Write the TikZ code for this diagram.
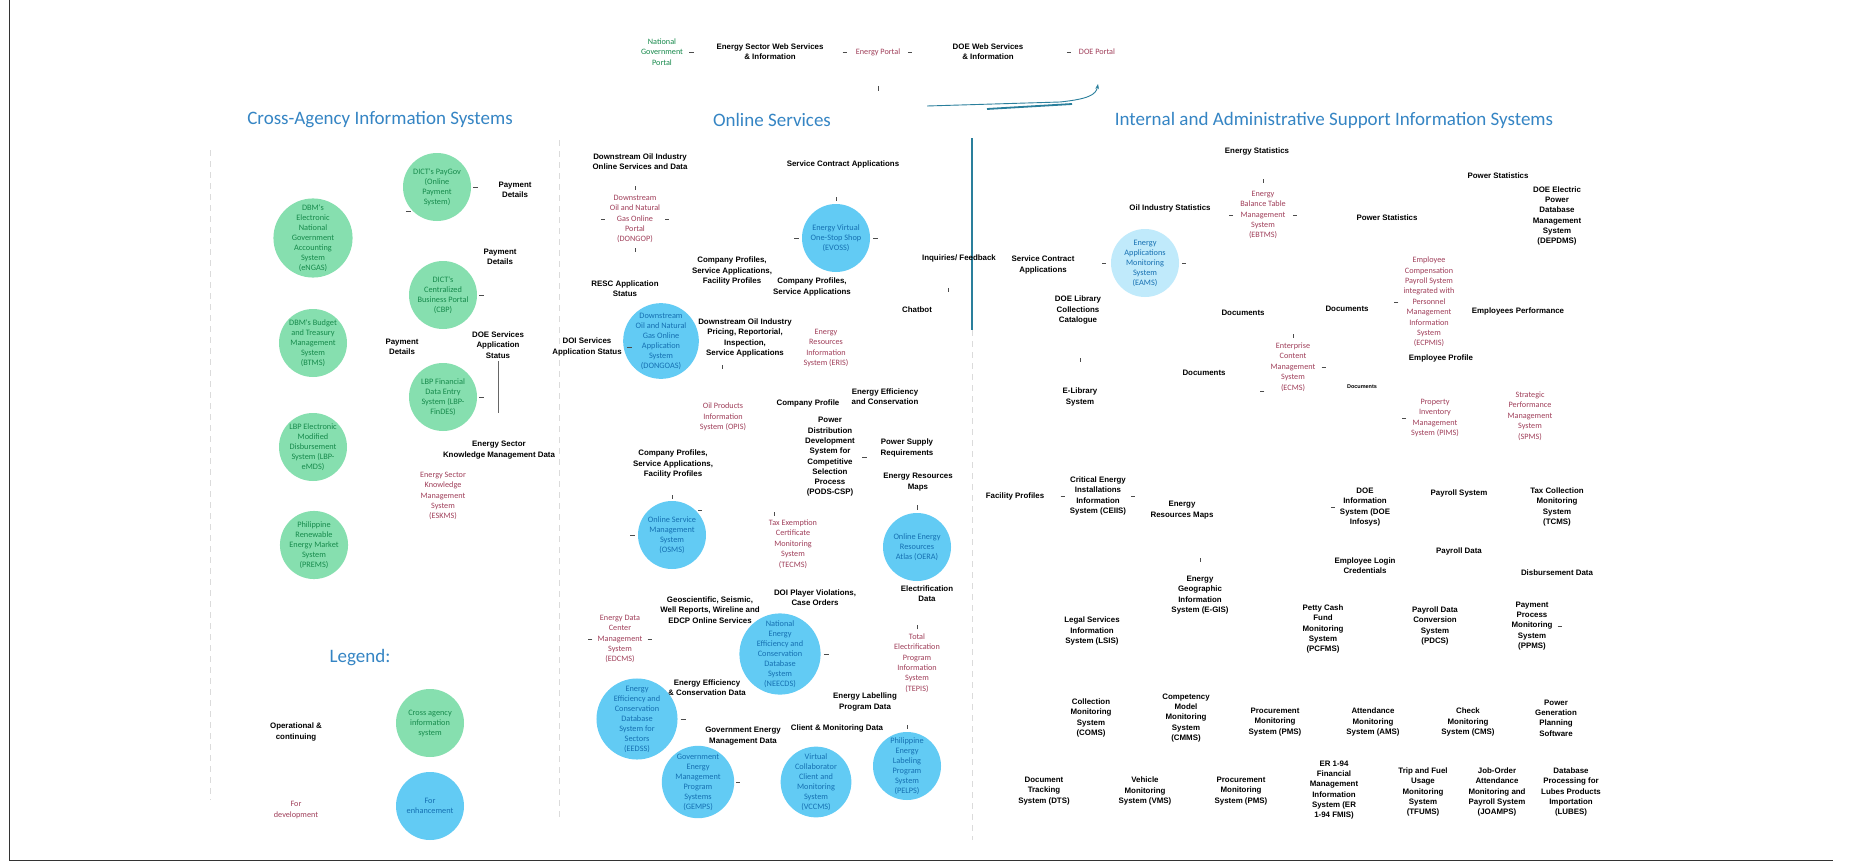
\documentclass[tikz,border=0pt]{standalone}
\usepackage{fontspec}
\usetikzlibrary{arrows.meta}
\setmainfont{Liberation Sans}
\newfontfamily\carl{Carlito}
\newfontfamily\lsans{Liberation Sans}
\definecolor{ttlblue}{HTML}{3585C4}
\definecolor{cagreen}{HTML}{86DFAF}
\definecolor{cagreentx}{HTML}{178A4C}
\definecolor{encblue}{HTML}{62CBF4}
\definecolor{encbluetx}{HTML}{1670B2}
\definecolor{devred}{HTML}{A03F5A}
\definecolor{divteal}{HTML}{2A7F9C}
\newcommand\mylblfont{\lsans\bfseries\fontsize{7.9}{10.3}\selectfont}
\newcommand\mycircfont{\carl\fontsize{8.3}{10}\selectfont}
\newcommand\mydevfont{\carl\fontsize{8.2}{10.4}\selectfont}
\newcommand\mytitlefont{\carl\fontsize{19}{22}\selectfont}
\tikzset{
  lbl/.style={font=\mylblfont, align=center, text=black, inner sep=0pt},
  dev/.style={font=\mydevfont, align=center, text=devred, inner sep=0pt},
  gtx/.style={font=\mydevfont, align=center, text=cagreentx, inner sep=0pt},
  gc/.style={circle, fill=cagreen, text=cagreentx, minimum size=68pt, inner sep=0pt, align=center, font=\mycircfont},
  bc/.style={circle, fill=encblue, text=encbluetx, minimum size=68pt, inner sep=0pt, align=center, font=\mycircfont},
  ttl/.style={font=\mytitlefont, text=ttlblue, inner sep=0pt},
  tickst/.style={draw=black!70, line width=0.7pt},
  faint/.style={draw=black!14, line width=0.6pt, dash pattern=on 6pt off 5pt},
}
\begin{document}
\begin{tikzpicture}[x=1pt,y=-1pt]
\useasboundingbox (0,0) rectangle (1859,867);
\fill[white] (0,0) rectangle (1859,867);
% frame
\draw[black!80, line width=1pt] (9,0) -- (9,860) -- (1833,860);
% faint guides
\draw[faint] (210,150) -- (210,800);
\draw[faint] (559,140) -- (559,820);
\draw[divteal, line width=1.2pt] (972,138) -- (972,330);
\draw[faint] (972,330) -- (972,840);

% ---------- top banner ----------
\node[gtx] (ngp) at (662,52) {National\\Government\\Portal};
\node[lbl] (eswsi) at (770,52) {Energy Sector Web Services\\\& Information};
\node[dev] (ep) at (878,52) {Energy Portal};
\node[lbl] (dwsi) at (988,52) {DOE Web Services\\\& Information};
\node[dev] (dp) at (1097,52) {DOE Portal};
\draw[tickst] ([xshift=6pt]ngp.east) -- ([xshift=11pt]ngp.east);
\draw[tickst] ([xshift=-13pt]ep.west) -- ([xshift=-9pt]ep.west);
\draw[tickst] ([xshift=8pt]ep.east) -- ([xshift=12pt]ep.east);
\draw[tickst] ([xshift=-12pt]dp.west) -- ([xshift=-8pt]dp.west);
\draw[tickst] ([yshift=-30pt]ep.south) -- ([yshift=-35pt]ep.south);
\coordinate (cva) at (927,106);
\coordinate (cvb) at (1098,84);
\draw[divteal, line width=0.9pt, -{Stealth[length=5pt]}] (cva) -- (1060,102) .. controls (1088,99) and (1096,95) .. (cvb);
\draw[divteal, line width=1.8pt] (987,109) -- (1072,104);

% ---------- titles ----------
\node[ttl] (t1) at (380,120) {Cross-Agency Information Systems};
\node[ttl] (t2) at (772,120) {Online Services};
\node[ttl] (t3) at (1334,120) {Internal and Administrative Support Information Systems};

% ---------- cross-agency ----------
\node[gc] (engas) at (313,238) {DBM's\\Electronic\\National\\Government\\Accounting\\System\\(eNGAS)};
\node[gc] (paygov) at (437,187) {DICT's PayGov\\(Online\\Payment\\System)};
\node[gc] (cbp) at (443,295) {DICT's\\Centralized\\Business Portal\\(CBP)};
\node[gc] (btms) at (313,343) {DBM's Budget\\and Treasury\\Management\\System\\(BTMS)};
\node[gc] (findes) at (443,397) {LBP Financial\\Data Entry\\System (LBP-\\FinDES)};
\node[gc] (emds) at (313,447) {LBP Electronic\\Modified\\Disbursement\\System (LBP-\\eMDS)};
\node[gc] (prems) at (314,545) {Philippine\\Renewable\\Energy Market\\System\\(PREMS)};
\node[lbl] (pd1) at (515,190) {Payment\\Details};
\node[lbl] (pd2) at (500,257) {Payment\\Details};
\node[lbl] (pd3) at (402,347) {Payment\\Details};
\node[lbl] (dosas) at (498,345) {DOE Services\\Application\\Status};
\coordinate (dosasend) at (498,413);
\draw[black!60, line width=0.6pt] ([yshift=-3pt]dosas.south) -- (dosasend);
\node[lbl] (eskmd) at (499,450) {Energy Sector\\Knowledge Management Data};
\node[dev] (eskms) at (443,496) {Energy Sector\\Knowledge\\Management\\System\\(ESKMS)};
\draw[tickst] ([xshift=2pt]paygov.east) -- ([xshift=7pt]paygov.east);
\draw[tickst] ([xshift=-7pt]paygov.south west) -- ([xshift=-2pt]paygov.south west);
\draw[tickst] ([xshift=2pt]cbp.east) -- ([xshift=7pt]cbp.east);
\draw[tickst] ([xshift=2pt]findes.east) -- ([xshift=7pt]findes.east);

% ---------- legend ----------
\node[ttl] (legend) at (360,658) {Legend:};
\node[lbl] (opc) at (296,732) {Operational \&\\continuing};
\node[gc] (lgc) at (430,723) {Cross agency\\information\\system};
\node[dev] (fdev) at (296,810) {For\\development};
\node[bc] (lbc) at (430,806) {For\\enhancement};

% ---------- online services ----------
\node[lbl] (dsoi) at (640,162) {Downstream Oil Industry\\Online Services and Data};
\node[dev] (dongop) at (635,219) {Downstream\\Oil and Natural\\Gas Online\\Portal\\(DONGOP)};
\draw[tickst] ([yshift=5pt]dongop.north) -- ([yshift=9pt]dongop.north);
\draw[tickst] ([yshift=-5pt]dongop.south) -- ([yshift=-9pt]dongop.south);
\draw[tickst] ([xshift=-5pt]dongop.west) -- ([xshift=-9pt]dongop.west);
\draw[tickst] ([xshift=5pt]dongop.east) -- ([xshift=9pt]dongop.east);
\node[lbl] (resc) at (625,289) {RESC Application\\Status};
\node[lbl] (cpsa1) at (732,271) {Company Profiles,\\Service Applications,\\Facility Profiles};
\node[lbl] (sca) at (843,164) {Service Contract Applications};
\node[bc] (evoss) at (836,238) {Energy Virtual\\One-Stop Shop\\(EVOSS)};
\draw[tickst] ([xshift=3pt]evoss.east) -- ([xshift=8pt]evoss.east);
\draw[tickst] ([yshift=3pt]evoss.north) -- ([yshift=7pt]evoss.north);
\draw[tickst] ([xshift=-3pt]evoss.west) -- ([xshift=-8pt]evoss.west);
\node[lbl] (cpsa2) at (812,287) {Company Profiles,\\Service Applications};
\node[lbl] (chatbot) at (917,310) {Chatbot};
\node[lbl] (inq) at (959,258) {Inquiries/ Feedback};
\draw[tickst] ([yshift=-26pt]inq.south) ++(-11pt,0) -- ++(0,-4pt);
\node[bc] (dongoas) at (661,341) {Downstream\\Oil and Natural\\Gas Online\\Application\\System\\(DONGOAS)};
\node[lbl] (doisas) at (587,347) {DOI Services\\Application Status};
\draw[tickst] ([xshift=5pt]doisas.east) -- ([xshift=10pt]doisas.east);
\node[lbl] (dsop) at (745,338) {Downstream Oil Industry\\Pricing, Reportorial,\\Inspection,\\Service Applications};
\draw[tickst] ([yshift=-8pt]dsop.south) ++(-23pt,0) -- ++(0,-4pt);
\node[dev] (opis) at (723,417) {Oil Products\\Information\\System (OPIS)};
\node[lbl] (cpsa3) at (673,464) {Company Profiles,\\Service Applications,\\Facility Profiles};
\node[dev] (eris) at (826,348) {Energy\\Resources\\Information\\System (ERIS)};
\node[lbl] (cprof) at (808,403) {Company Profile};
\node[lbl] (eec) at (885,397) {Energy Efficiency\\and Conservation};
\node[lbl] (pods) at (830,457) {Power\\Distribution\\Development\\System for\\Competitive\\Selection\\Process\\(PODS-CSP)};
\draw[tickst] ([xshift=7pt]pods.east) -- ([xshift=12pt]pods.east);
\node[lbl] (psr) at (907,448) {Power Supply\\Requirements};
\node[lbl] (erm1) at (918,482) {Energy Resources\\Maps};
\node[bc] (oera) at (917,547) {Online Energy\\Resources\\Atlas (OERA)};
\draw[tickst] ([yshift=3pt]oera.north) -- ([yshift=8pt]oera.north);
\node[bc] (osms) at (672,535) {Online Service\\Management\\System\\(OSMS)};
\draw[tickst] ([xshift=-3pt]osms.west) -- ([xshift=-8pt]osms.west);
\draw[tickst] ([xshift=2pt]osms.north east) -- ([xshift=6pt]osms.north east);
\draw[tickst] ([yshift=2pt]osms.north) -- ([yshift=6pt]osms.north);
\node[dev] (tecms) at (793,544) {Tax Exemption\\Certificate\\Monitoring\\System\\(TECMS)};
\draw[tickst] ([yshift=4pt]tecms.north) ++(-19pt,0) -- ++(0,4pt);
\node[lbl] (doipv) at (815,598) {DOI Player Violations,\\Case Orders};
\node[lbl] (geo) at (710,610) {Geoscientific, Seismic,\\Well Reports, Wireline and\\EDCP Online Services};
\node[dev] (edcms) at (620,639) {Energy Data\\Center\\Management\\System\\(EDCMS)};
\draw[tickst] ([xshift=-5pt]edcms.west) -- ([xshift=-9pt]edcms.west);
\draw[tickst] ([xshift=5pt]edcms.east) -- ([xshift=9pt]edcms.east);
\node[bc] (neecds) at (780,654) {National\\Energy\\Efficiency and\\Conservation\\Database\\System\\(NEECDS)};
\draw[tickst] ([xshift=3pt]neecds.east) -- ([xshift=8pt]neecds.east);
\node[lbl] (elecd) at (927,594) {Electrification\\Data};
\node[dev] (tepis) at (917,663) {Total\\Electrification\\Program\\Information\\System\\(TEPIS)};
\draw[tickst] ([yshift=4pt]tepis.north) -- ([yshift=8pt]tepis.north);
\node[lbl] (eld) at (865,702) {Energy Labelling\\Program Data};
\node[lbl] (eecd) at (707,688) {Energy Efficiency\\\& Conservation Data};
\node[bc] (eedss) at (637,719) {Energy\\Efficiency and\\Conservation\\Database\\System for\\Sectors\\(EEDSS)};
\draw[tickst] ([xshift=3pt]eedss.east) -- ([xshift=8pt]eedss.east);
\node[lbl] (cmd) at (837,728) {Client \& Monitoring Data};
\node[lbl] (gemd) at (743,736) {Government Energy\\Management Data};
\node[bc] (gemps) at (698,782) {Government\\Energy\\Management\\Program\\Systems\\(GEMPS)};
\node[bc] (vccms) at (816,782) {Virtual\\Collaborator\\Client and\\Monitoring\\System\\(VCCMS)};
\node[bc] (pelps) at (907,766) {Philippine\\Energy\\Labeling\\Program\\System\\(PELPS)};
\draw[tickst] ([xshift=2pt]gemps.east) -- ([xshift=6pt]gemps.east);
\draw[tickst] ([yshift=3pt]pelps.north) -- ([yshift=7pt]pelps.north);

% ---------- internal ----------
\node[lbl] (estat) at (1257,151) {Energy Statistics};
\node[dev] (ebtms) at (1263,215) {Energy\\Balance Table\\Management\\System\\(EBTMS)};
\draw[tickst] ([xshift=-7pt]ebtms.west) -- ([xshift=-11pt]ebtms.west);
\draw[tickst] ([xshift=7pt]ebtms.east) -- ([xshift=11pt]ebtms.east);
\draw[tickst] ([yshift=8pt]ebtms.north) -- ([yshift=12pt]ebtms.north);
\node[lbl] (ois) at (1170,208) {Oil Industry Statistics};
\node[lbl] (sca2) at (1043,265) {Service Contract\\Applications};
\node[bc, fill=encblue!40] (eams) at (1145,263) {Energy\\Applications\\Monitoring\\System\\(EAMS)};
\draw[tickst] ([xshift=-5pt]eams.west) -- ([xshift=-9pt]eams.west);
\draw[tickst] ([xshift=3pt]eams.east) -- ([xshift=7pt]eams.east);
\node[lbl] (dlcc) at (1078,310) {DOE Library\\Collections\\Catalogue};
\node[lbl] (elib) at (1080,397) {E-Library\\System};
\draw[tickst] ([yshift=26pt]elib.north) -- ([yshift=30pt]elib.north);
\node[lbl] (doc1) at (1243,313) {Documents};
\node[lbl] (doc2) at (1347,309) {Documents};
\node[lbl] (doc3) at (1204,373) {Documents};
\node[dev] (ecms) at (1293,367) {Enterprise\\Content\\Management\\System\\(ECMS)};
\draw[tickst] ([yshift=5pt]ecms.north) -- ([yshift=9pt]ecms.north);
\draw[tickst] ([xshift=6pt]ecms.east) -- ([xshift=10pt]ecms.east);
\draw[tickst] ([xshift=-6pt]ecms.south west) -- ([xshift=-10pt]ecms.south west);
\node[lbl, font=\lsans\bfseries\fontsize{5.5}{7}\selectfont] (doc4) at (1362,387) {Documents};
\node[dev] (ecpmis) at (1429,302) {Employee\\Compensation\\Payroll System\\integrated with\\Personnel\\Management\\Information\\System\\(ECPMIS)};
\draw[tickst] ([xshift=-5pt]ecpmis.west) -- ([xshift=-9pt]ecpmis.west);
\node[lbl] (pstat2) at (1387,218) {Power Statistics};
\node[lbl] (pstat1) at (1498,176) {Power Statistics};
\node[lbl] (depdms) at (1557,216) {DOE Electric\\Power\\Database\\Management\\System\\(DEPDMS)};
\node[lbl] (eperf) at (1518,311) {Employees Performance};
\node[lbl] (eprof) at (1441,358) {Employee Profile};
\node[dev] (pims) at (1435,418) {Property\\Inventory\\Management\\System (PIMS)};
\draw[tickst] ([xshift=-5pt]pims.west) -- ([xshift=-9pt]pims.west);
\node[dev] (spms) at (1530,416) {Strategic\\Performance\\Management\\System\\(SPMS)};
\node[lbl] (fp) at (1015,496) {Facility Profiles};
\node[lbl] (ceiis) at (1098,496) {Critical Energy\\Installations\\Information\\System (CEIIS)};
\draw[tickst] ([xshift=-9pt]ceiis.west) -- ([xshift=-5pt]ceiis.west);
\draw[tickst] ([xshift=5pt]ceiis.east) -- ([xshift=9pt]ceiis.east);
\node[lbl] (erm2) at (1182,510) {Energy\\Resources Maps};
\node[lbl] (doeinfo) at (1365,507) {DOE\\Information\\System (DOE\\Infosys)};
\draw[tickst] ([xshift=-9pt]doeinfo.west) -- ([xshift=-5pt]doeinfo.west);
\node[lbl] (payroll) at (1459,493) {Payroll System};
\node[lbl] (tcms) at (1557,507) {Tax Collection\\Monitoring\\System\\(TCMS)};
\node[lbl] (elc) at (1365,566) {Employee Login\\Credentials};
\node[lbl] (pdata) at (1459,551) {Payroll Data};
\node[lbl] (dd) at (1557,573) {Disbursement Data};
\node[lbl] (egis) at (1200,595) {Energy\\Geographic\\Information\\System (E-GIS)};
\draw[tickst] ([yshift=14pt]egis.north) -- ([yshift=18pt]egis.north);
\node[lbl] (lsis) at (1092,631) {Legal Services\\Information\\System (LSIS)};
\node[lbl] (pcfms) at (1323,629) {Petty Cash\\Fund\\Monitoring\\System\\(PCFMS)};
\node[lbl] (pdcs) at (1435,626) {Payroll Data\\Conversion\\System\\(PDCS)};
\node[lbl] (ppms) at (1532,626) {Payment\\Process\\Monitoring\\System\\(PPMS)};
\draw[tickst] ([xshift=5pt]ppms.east) -- ([xshift=9pt]ppms.east);
% row 1
\node[lbl] (coms) at (1091,718) {Collection\\Monitoring\\System\\(COMS)};
\node[lbl] (cmms) at (1186,718) {Competency\\Model\\Monitoring\\System\\(CMMS)};
\node[lbl] (pms1) at (1275,722) {Procurement\\Monitoring\\System (PMS)};
\node[lbl] (ams) at (1373,722) {Attendance\\Monitoring\\System (AMS)};
\node[lbl] (cms) at (1468,722) {Check\\Monitoring\\System (CMS)};
\node[lbl] (pgps) at (1556,718) {Power\\Generation\\Planning\\Software};
% row 2
\node[lbl] (dts) at (1044,791) {Document\\Tracking\\System (DTS)};
\node[lbl] (vms) at (1145,791) {Vehicle\\Monitoring\\System (VMS)};
\node[lbl] (pms2) at (1241,791) {Procurement\\Monitoring\\System (PMS)};
\node[lbl] (erfmis) at (1334,790) {ER 1-94\\Financial\\Management\\Information\\System (ER\\1-94 FMIS)};
\node[lbl] (tfums) at (1423,792) {Trip and Fuel\\Usage\\Monitoring\\System\\(TFUMS)};
\node[lbl] (joamps) at (1497,792) {Job-Order\\Attendance\\Monitoring and\\Payroll System\\(JOAMPS)};
\node[lbl] (lubes) at (1571,792) {Database\\Processing for\\Lubes Products\\Importation\\(LUBES)};
\end{tikzpicture}
\end{document}
